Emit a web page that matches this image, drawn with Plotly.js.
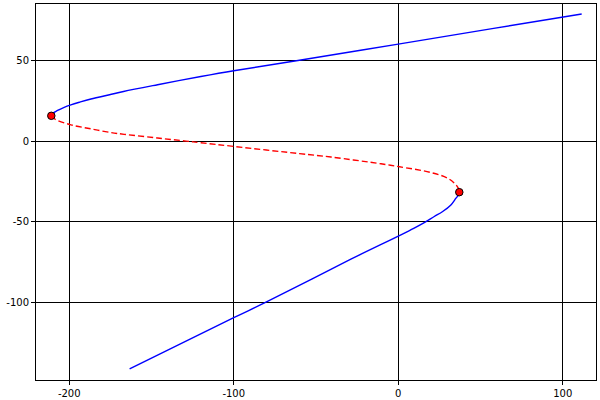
<!DOCTYPE html>
<html>
<head>
<meta charset="utf-8">
<script src="https://cdn.plot.ly/plotly-3.0.1.min.js"></script>
<style>
  html, body { margin: 0; padding: 0; background: #fff; }
  #plot { width: 600px; height: 400px; }
</style>
</head>
<body>
<div id="plot"></div>
<script>
// stable upper branch (from left fold up to top end)
var upperX = [-210.9, -209.9, -207.1, -203.4, -199, -193.2, -186.8, -175.5, -167, -146.3, -120, -100, -61, 0, 58, 111.5];
var upperY = [15.7, 17.3, 19.0, 20.8, 22.5, 24.3, 26.1, 28.8, 30.8, 35.0, 40.1, 43.7, 50, 60.2, 70, 78.9];

// unstable middle branch (left fold to right fold)
var middleX = [-210.9, -209.4, -207.1, -199, -186.8, -174.7, -166.6, -146.3, -129, -120, -100, -60, -40.9, -10.5, 0, 19.9, 30, 34.1, 35.6, 36.6, 37.1];
var middleY = [15.7, 14.2, 12.8, 10.1, 7.6, 5.3, 4.2, 1.9, 0, -1.0, -3.3, -7.8, -9.9, -14.1, -15.8, -19.5, -23.0, -26.1, -27.8, -29.5, -31.7];

// stable lower branch (right fold down to bottom end)
var lowerX = [37.1, 36.6, 35.1, 32.0, 27.0, 21.9, 15.8, 9.7, 1.6, -28.8, -80.4, -100, -163.3];
var lowerY = [-31.7, -33.5, -35.4, -39.6, -43.7, -46.8, -50.6, -54.0, -58.2, -73.3, -100, -109.6, -141.4];

// fold points
var foldX = [-210.9, 37.1];
var foldY = [15.7, -31.7];

var xTicks = [-200, -100, 0, 100];
var xLabels = ['-200', '-100', '0', '100'];
var yTicks = [-100, -50, 0, 50];
var yLabels = ['-100', '-50', '0', '50'];

function branch(x, y, color, dash) {
    return {
        x: x, y: y,
        mode: 'lines',
        type: 'scatter',
        line: { color: color, width: 1.4, dash: dash, shape: 'spline', smoothing: 1 },
        hoverinfo: 'skip'
    };
}

var traces = [
    branch(upperX, upperY, '#0000ff', 'solid'),
    branch(middleX, middleY, '#ff0000', '6px,3px'),
    branch(lowerX, lowerY, '#0000ff', 'solid'),
    {
        x: foldX, y: foldY,
        mode: 'markers',
        type: 'scatter',
        marker: { color: '#ff0000', size: 7.5, line: { color: '#000000', width: 1 } },
        hoverinfo: 'skip'
    }
];

var axisStyle = {
    showline: true, mirror: true, linecolor: '#000', linewidth: 1,
    showgrid: true, gridcolor: '#000', gridwidth: 1,
    zeroline: false,
    ticks: 'outside', ticklen: 4, tickcolor: '#000', tickwidth: 1,
    tickfont: { family: 'DejaVu Sans', size: 10, color: '#000' }
};

var layout = {
    width: 600, height: 400,
    margin: { l: 36, r: 4, t: 4, b: 20 },
    paper_bgcolor: '#fff', plot_bgcolor: '#fff',
    showlegend: false,
    xaxis: Object.assign({}, axisStyle, {
        range: [-220.2, 120.2], tickmode: 'array', tickvals: xTicks, ticktext: xLabels
    }),
    yaxis: Object.assign({}, axisStyle, {
        range: [-148.3, 85.1], tickmode: 'array', tickvals: yTicks, ticktext: yLabels
    })
};

Plotly.newPlot('plot', traces, layout, { staticPlot: true });
</script>
</body>
</html>
